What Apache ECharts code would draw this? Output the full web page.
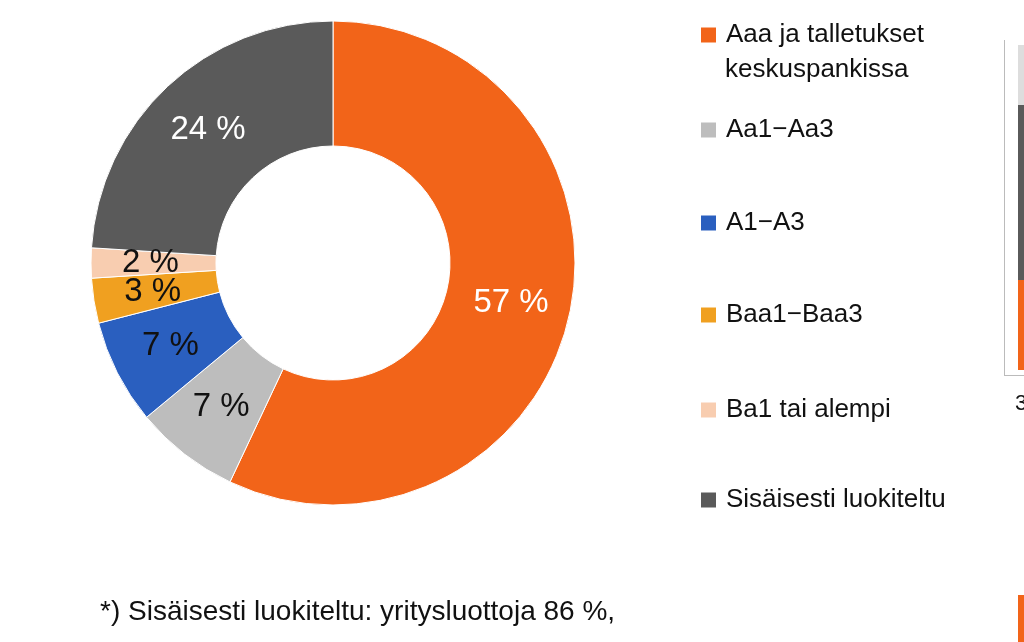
<!DOCTYPE html>
<html><head><meta charset="utf-8">
<script src="https://cdn.jsdelivr.net/npm/echarts@6/dist/echarts.min.js"></script>
<style>html,body{margin:0;padding:0;background:#fff}#c{width:1024px;height:642px}</style>
</head><body><div id="c"></div>
<script>
const categories = ["Aaa ja talletukset keskuspankissa","Aa1−Aa3","A1−A3","Baa1−Baa3","Ba1 tai alempi","Sisäisesti luokiteltu"];
const values = [57,7,7,3,2,24];
const colors = ["#f26419","#bdbdbd","#2a5fbf","#f0a020","#f8cdb0","#5a5a5a"];
const labelColors = ["#fff","#111","#111","#111","#111","#fff"];
const legendTops = [17,112,205,297,392,482];
const font = "'Liberation Sans', 'Noto Sans', sans-serif";
const chart = echarts.init(document.getElementById('c'));
const legends = categories.map((n,i)=>({
  data:[n], left:694, top:legendTops[i], itemWidth:17, itemHeight:17, itemGap:0,
  icon:'rect', selectedMode:false,
  formatter: i===0 ? 'Aaa ja talletukset' : n,
  textStyle:{fontFamily:font,fontSize:26,color:'#111',padding:[0,0,0,4]}
}));
chart.setOption({
  animation:false,
  color:colors,
  legend:legends,
  graphic:[
    {type:'text',left:725,top:57,style:{text:'keskuspankissa',font:'26px '+font,fill:'#111'}},
    {type:'text',left:100,top:598,style:{text:'*) Sisäisesti luokiteltu: yritysluottoja 86 %,',font:'28px '+font,fill:'#111'}},
    {type:'rect',shape:{x:1004,y:40,width:1,height:335},style:{fill:'#bbb'}},
    {type:'rect',shape:{x:1004,y:375,width:20,height:1},style:{fill:'#bbb'}},
    {type:'rect',shape:{x:1018,y:45,width:6,height:60},style:{fill:'#ddd'}},
    {type:'rect',shape:{x:1018,y:105,width:6,height:175},style:{fill:'#5a5a5a'}},
    {type:'rect',shape:{x:1018,y:280,width:6,height:90},style:{fill:'#f26419'}},
    {type:'rect',shape:{x:1018,y:595,width:6,height:47},style:{fill:'#f26419'}},
    {type:'text',left:1015,top:393,style:{text:'3',font:'22px '+font,fill:'#111'}}
  ],
  series:[{
    type:'pie', center:[333,263], radius:[117,242], startAngle:90, clockwise:true,
    avoidLabelOverlap:false, minShowLabelAngle:0,
    labelLayout:{hideOverlap:false},
    label:{show:true,position:'inside',fontFamily:font,fontSize:33,formatter:'{c} %'},
    labelLine:{show:false},
    itemStyle:{borderColor:'#fff',borderWidth:1},
    data:categories.map((n,i)=>({name:n,value:values[i],label:{color:labelColors[i]}}))
  }]
});
</script></body></html>
